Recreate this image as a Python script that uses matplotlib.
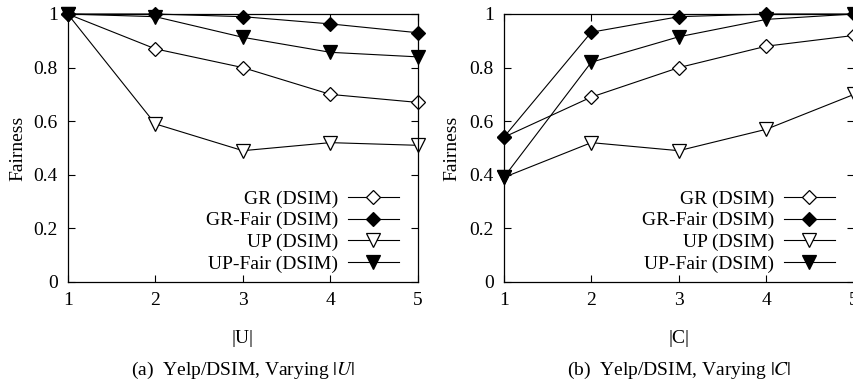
import matplotlib
matplotlib.use("Agg")
import matplotlib.pyplot as plt

plt.rcParams['font.family'] = ['Liberation Serif', 'DejaVu Serif']
plt.rcParams['mathtext.fontset'] = 'stix'

x = [1, 2, 3, 4, 5]
xticks = [1, 2, 3, 4, 5]
yticks = [0, 0.2, 0.4, 0.6, 0.8, 1]
ytick_labels = ['0', '0.2', '0.4', '0.6', '0.8', '1']

series_names = ['GR (DSIM)', 'GR-Fair (DSIM)', 'UP (DSIM)', 'UP-Fair (DSIM)']

# Panel (a): varying |U|
a_gr = [1.0, 0.87, 0.80, 0.70, 0.67]
a_gr_fair = [1.0, 1.0, 0.99, 0.963, 0.93]
a_up = [1.0, 0.59, 0.49, 0.52, 0.51]
a_up_fair = [1.0, 0.99, 0.913, 0.857, 0.84]

# Panel (b): varying |C|
b_gr = [0.54, 0.69, 0.80, 0.88, 0.92]
b_gr_fair = [0.54, 0.932, 0.99, 1.0, 1.0]
b_up = [0.39, 0.52, 0.49, 0.57, 0.70]
b_up_fair = [0.39, 0.82, 0.915, 0.98, 1.0]

styles = [
    dict(marker='D', mfc='white', mec='black', ms=7),
    dict(marker='D', mfc='black', mec='black', ms=7),
    dict(marker='v', mfc='white', mec='black', ms=9.5),
    dict(marker='v', mfc='black', mec='black', ms=9.5),
]

FS = 14

fig = plt.figure(figsize=(8.54, 3.9), dpi=100)
axA = fig.add_axes([67.7/854, 108/390, 350.3/854, 268/390])
axB = fig.add_axes([503.7/854, 108/390, 350.3/854, 268/390])

panels = [
    (axA, [a_gr, a_gr_fair, a_up, a_up_fair], '|U|', '(a)  Yelp/DSIM, Varying $|U|$', -0.119),
    (axB, [b_gr, b_gr_fair, b_up, b_up_fair], '|C|', '(b)  Yelp/DSIM, Varying $|C|$', -0.125),
]

for ax, data, xl, cap, ylx in panels:
    for name, ys, st in zip(series_names, data, styles):
        ax.plot(x, ys, color='black', lw=0.8, label=name, mew=0.9, clip_on=False, **st)
    ax.set_xlim(1, 5)
    ax.set_ylim(0, 1)
    ax.set_xticks(xticks)
    ax.set_yticks(yticks)
    ax.set_yticklabels(ytick_labels)
    ax.tick_params(direction='in', top=True, right=True, labelsize=FS, length=5, width=0.8, pad=7)
    for s in ax.spines.values():
        s.set_linewidth(0.9)
    ax.set_ylabel('Fairness', fontsize=FS)
    ax.yaxis.set_label_coords(ylx, 0.5)
    ax.set_xlabel(xl, fontsize=FS)
    ax.xaxis.set_label_coords(0.5, -0.18)
    ax.text(0.5, -0.33, cap, transform=ax.transAxes, ha='center', va='center', fontsize=FS)
    leg = ax.legend(loc='lower right', bbox_to_anchor=(0.995, -0.03), frameon=False, markerfirst=False,
                    fontsize=FS, handlelength=2.6, labelspacing=0.2, handletextpad=0.5, borderaxespad=0.5)
    for t in leg.get_texts():
        t.set_ha('right')
    leg._legend_box.align = 'right'

fig.savefig('out.png', dpi=100)
